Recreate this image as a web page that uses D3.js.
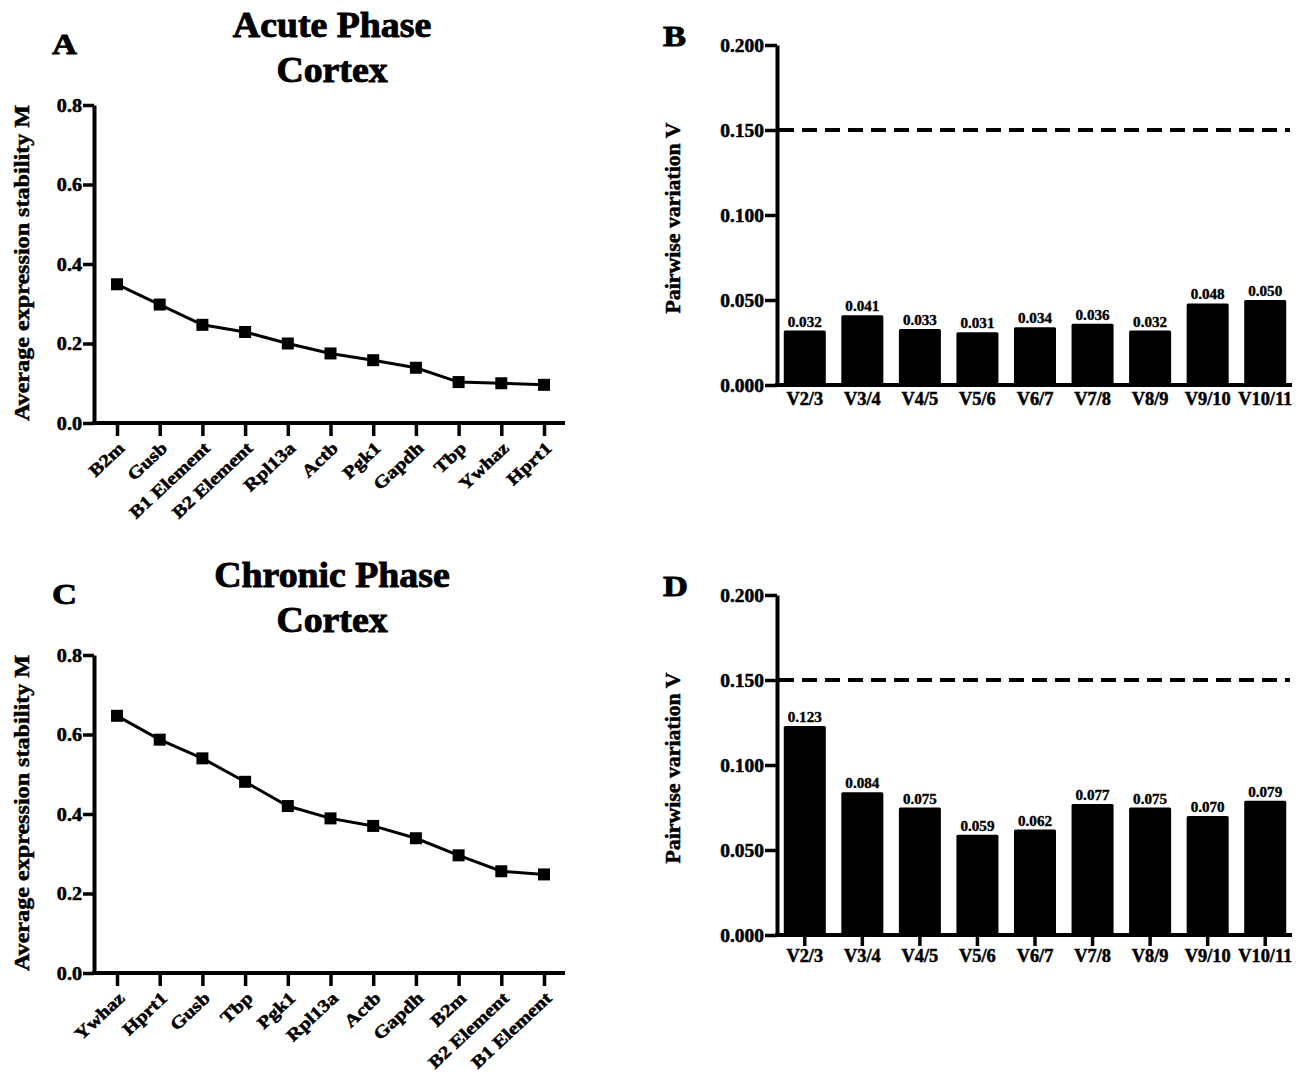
<!DOCTYPE html>
<html>
<head>
<meta charset="utf-8">
<script src="https://cdn.jsdelivr.net/npm/d3@7"></script>
<style>
  body { margin: 0; background: #fff; }
  text { font-family: "Liberation Serif", "Times New Roman", serif; font-weight: bold; fill: #000; stroke: #000; stroke-width: 0.5px; }
  text.big { stroke-width: 0.9px; }
</style>
</head>
<body>
<svg id="fig" width="1301" height="1074"></svg>
<script>
// values
const acuteGenes = ["B2m", "Gusb", "B1 Element", "B2 Element", "Rpl13a", "Actb", "Pgk1", "Gapdh", "Tbp", "Ywhaz", "Hprt1"];
const acuteM = [0.349, 0.298, 0.247, 0.229, 0.200, 0.175, 0.158, 0.139, 0.103, 0.100, 0.096];

const chronicGenes = ["Ywhaz", "Hprt1", "Gusb", "Tbp", "Pgk1", "Rpl13a", "Actb", "Gapdh", "B2m", "B2 Element", "B1 Element"];
const chronicM = [0.647, 0.587, 0.540, 0.481, 0.420, 0.389, 0.370, 0.339, 0.296, 0.256, 0.248];

const pairLabels = ["V2/3", "V3/4", "V4/5", "V5/6", "V6/7", "V7/8", "V8/9", "V9/10", "V10/11"];
const acuteV = [0.032, 0.041, 0.033, 0.031, 0.034, 0.036, 0.032, 0.048, 0.050];
const chronicV = [0.123, 0.084, 0.075, 0.059, 0.062, 0.077, 0.075, 0.070, 0.079];

const mTicks = [0, 0.2, 0.4, 0.6, 0.8];
const vTicks = [0, 0.05, 0.1, 0.15, 0.2];
const cutoff = 0.15;

const svg = d3.select("#fig");

// text is a bit wider than plain Times in the figure, so stretch along the reading direction
function addText(g, str, x, y, size, sx, rot, anchor) {
  return g.append("text")
    .attr("transform", `translate(${x},${y}) rotate(${rot || 0}) scale(${sx},1)`)
    .attr("text-anchor", anchor || "start")
    .style("font-size", size + "px")
    .text(str);
}

function styleAxis(g) {
  g.selectAll(".domain").attr("stroke", "#000").attr("stroke-width", 4);
  g.selectAll(".tick line").attr("stroke", "#000").attr("stroke-width", 3.5);
}

function lineChart(dy, genes, values, title1, title2, letter) {
  const g = svg.append("g").attr("transform", `translate(0,${dy})`);
  const x = d3.scalePoint().domain(genes).range([117, 544]);
  const y = d3.scaleLinear().domain([0, 0.8]).range([423, 105]);

  addText(g, letter, 52, 54, 30, 1.15).attr("class", "big");
  addText(g, title1, 332, 37, 35, 1.08, 0, "middle").attr("class", "big");
  addText(g, title2, 332, 82, 35, 1.08, 0, "middle").attr("class", "big");
  addText(g, "Average expression stability M", 29, 263, 21, 1.15, -90, "middle");

  const ya = g.append("g").attr("transform", "translate(94,0)")
    .call(d3.axisLeft(y).tickValues(mTicks).tickFormat(d3.format(".1f")).tickSize(11).tickSizeOuter(0));
  styleAxis(ya);
  ya.selectAll(".tick text").remove();
  ya.selectAll(".tick").each(function(d) {
    addText(d3.select(this), d3.format(".1f")(d), -12, 6, 18, 1.12, 0, "end");
  });

  // x axis line runs past the last point
  g.append("line").attr("x1", 92).attr("x2", 565).attr("y1", y(0)).attr("y2", y(0))
    .attr("stroke", "#000").attr("stroke-width", 4);
  const xa = g.append("g").attr("transform", `translate(0,${y(0)})`)
    .call(d3.axisBottom(x).tickSize(13).tickSizeOuter(0));
  styleAxis(xa);
  xa.select(".domain").remove();
  xa.selectAll(".tick text").remove();
  xa.selectAll(".tick").each(function(d) {
    addText(d3.select(this), d, 4, 22, 17.5, 1.18, -43, "end").attr("dy", "0.35em");
  });

  const pts = genes.map((k, i) => [x(k), y(values[i])]);
  g.append("path").attr("d", d3.line()(pts))
    .attr("fill", "none").attr("stroke", "#000").attr("stroke-width", 3);
  g.selectAll("rect.pt").data(pts).join("rect").attr("class", "pt")
    .attr("x", d => d[0] - 6).attr("y", d => d[1] - 6)
    .attr("width", 12).attr("height", 12).attr("fill", "#000");
}

function barChart(dy, values, letter, withTicks) {
  const g = svg.append("g").attr("transform", `translate(0,${dy})`);
  const x = d3.scaleBand().domain(pairLabels).range([776, 1294]).paddingInner(0.27).paddingOuter(0.135);
  const y = d3.scaleLinear().domain([0, 0.2]).range([385, 45]);

  addText(g, letter, 663, 46, 30, 1.15).attr("class", "big");
  addText(g, "Pairwise variation V", 680, 218, 21, 1.04, -90, "middle");

  const ya = g.append("g").attr("transform", "translate(777,0)")
    .call(d3.axisLeft(y).tickValues(vTicks).tickFormat(d3.format(".3f")).tickSize(12).tickSizeOuter(0));
  styleAxis(ya);
  ya.selectAll(".tick text").remove();
  ya.selectAll(".tick").each(function(d) {
    addText(d3.select(this), d3.format(".3f")(d), -13, 6, 18, 1.08, 0, "end");
  });

  g.selectAll("rect.bar").data(values).join("rect").attr("class", "bar")
    .attr("x", (d, i) => x(pairLabels[i]))
    .attr("y", d => y(d))
    .attr("width", x.bandwidth())
    .attr("height", d => y(0) - y(d))
    .attr("rx", 1.5)
    .attr("fill", "#000");

  g.selectAll("text.val").data(values).join("text").attr("class", "val")
    .attr("text-anchor", "middle")
    .attr("transform", (d, i) => `translate(${x(pairLabels[i]) + x.bandwidth() / 2},${y(d) - 4}) scale(1.08,1)`)
    .style("font-size", "14px")
    .style("stroke-width", "0.35px")
    .text(d => d3.format(".3f")(d));

  g.append("line").attr("x1", 779).attr("x2", 1290).attr("y1", y(cutoff)).attr("y2", y(cutoff))
    .attr("stroke", "#000").attr("stroke-width", 4).attr("stroke-dasharray", "15,8");

  g.append("line").attr("x1", 775).attr("x2", 1292).attr("y1", y(0)).attr("y2", y(0))
    .attr("stroke", "#000").attr("stroke-width", 4);
  const xa = g.append("g").attr("transform", `translate(0,${y(0)})`)
    .call(d3.axisBottom(x).tickSize(withTicks ? 11 : 0).tickSizeOuter(0));
  styleAxis(xa);
  xa.select(".domain").remove();
  xa.selectAll(".tick text").remove();
  xa.selectAll(".tick").each(function(d) {
    addText(d3.select(this), d, 0, withTicks ? 27 : 20, 18, 1.02, 0, "middle");
  });
}

lineChart(0, acuteGenes, acuteM, "Acute Phase", "Cortex", "A");
barChart(0, acuteV, "B", false);
lineChart(550, chronicGenes, chronicM, "Chronic Phase", "Cortex", "C");
barChart(550, chronicV, "D", true);
</script>
</body>
</html>
